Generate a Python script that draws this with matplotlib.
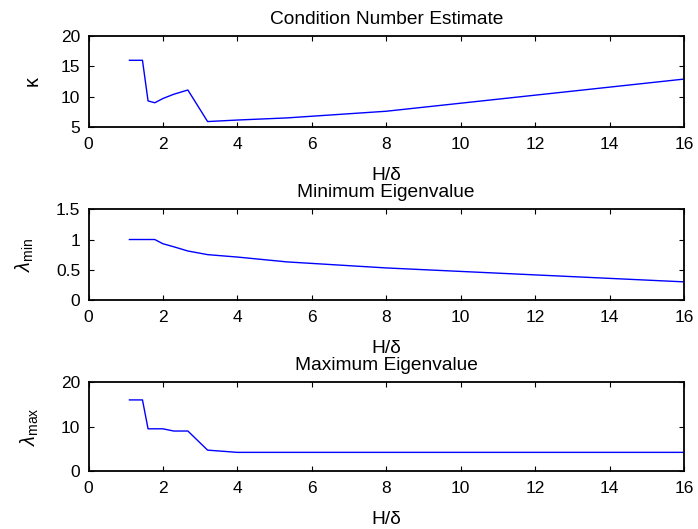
import numpy as np
import matplotlib
matplotlib.use('Agg')
import matplotlib.pyplot as plt

plt.rcParams['font.family'] = ['Liberation Sans', 'DejaVu Sans']
plt.rcParams['mathtext.fontset'] = 'custom'
plt.rcParams['mathtext.rm'] = 'Liberation Sans'
plt.rcParams['mathtext.it'] = 'Liberation Sans:italic'

# H/delta sample points and measured quantities
h_over_delta = [1.1, 1.45, 1.6, 1.78, 2.0, 2.29, 2.67, 3.2, 4.0, 5.33, 8.0, 16.0]
kappa = [16.0, 16.0, 9.3, 9.0, 9.7, 10.4, 11.1, 5.9, 6.15, 6.5, 7.6, 12.9]
lam_min = [1.0, 1.0, 1.0, 1.0, 0.93, 0.88, 0.81, 0.75, 0.71, 0.63, 0.53, 0.30]
lam_max = [16.0, 16.0, 9.5, 9.5, 9.5, 9.0, 9.0, 4.7, 4.2, 4.2, 4.2, 4.2]

x_ticks = np.arange(0, 17, 2)

panels = [
    ('Condition Number Estimate', kappa, 'κ', (5, 20), [5, 10, 15, 20], ['5', '10', '15', '20']),
    ('Minimum Eigenvalue', lam_min, r'$\lambda_{\mathrm{min}}$', (0, 1.5), [0, 0.5, 1, 1.5], ['0', '0.5', '1', '1.5']),
    ('Maximum Eigenvalue', lam_max, r'$\lambda_{\mathrm{max}}$', (0, 20), [0, 10, 20], ['0', '10', '20']),
]

# axes boxes in figure fractions: left, bottom, width, height
boxes = [
    [0.1268, 0.7599, 0.8531, 0.1720],
    [0.1268, 0.4329, 0.8531, 0.1715],
    [0.1268, 0.1096, 0.8531, 0.1680],
]

TICK_FS = 12.5
LABEL_FS = 13.75

fig = plt.figure(figsize=(6.98, 5.29), dpi=100)

for (title, yvals, ylab, ylim, yt, ytl), box in zip(panels, boxes):
    ax = fig.add_axes(box)
    ax.plot(h_over_delta, yvals, color='#0000ff', linewidth=1.0)
    ax.set_xlim(0, 16)
    ax.set_ylim(*ylim)
    ax.set_xticks(x_ticks)
    ax.set_xticklabels([str(v) for v in x_ticks])
    ax.set_yticks(yt)
    ax.set_yticklabels(ytl)
    ax.tick_params(direction='in', top=True, right=True, length=3.5, width=0.8,
                   labelsize=TICK_FS)
    ax.tick_params(axis='x', pad=7.5)
    ax.tick_params(axis='y', pad=6)
    for s in ax.spines.values():
        s.set_linewidth(1.3)
    ax.set_title(title, fontsize=LABEL_FS, pad=9)
    ax.set_xlabel('H/δ', fontsize=LABEL_FS, labelpad=10.5)
    ax.set_ylabel(ylab, fontsize=LABEL_FS + 0.5, labelpad=14)

fig.savefig('out.png', dpi=100)
